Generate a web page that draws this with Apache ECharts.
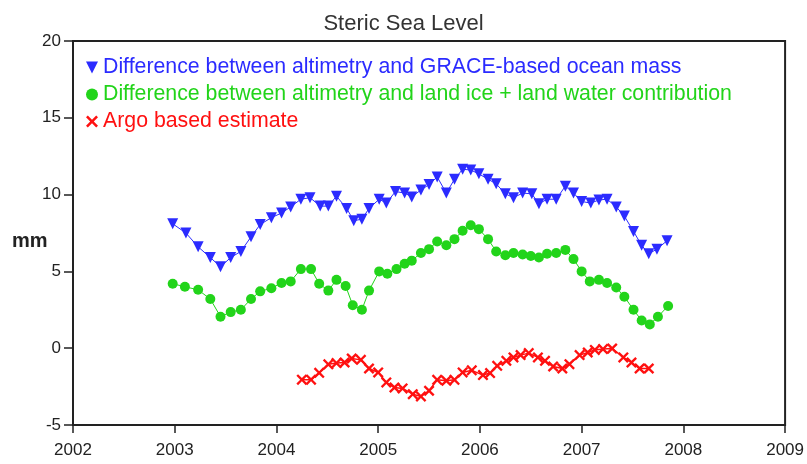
<!DOCTYPE html>
<html><head><meta charset="utf-8">
<script src="https://cdn.jsdelivr.net/npm/echarts@6/dist/echarts.min.js"></script>
<style>html,body{margin:0;padding:0;background:#fff}#c{width:807px;height:464px}</style>
</head><body><div id="c"></div>
<script>
const titleText = "Steric Sea Level";
const yAxisLabel = "mm";
const xTicks = [2002, 2003, 2004, 2005, 2006, 2007, 2008, 2009];
const yTicks = [-5, 0, 5, 10, 15, 20];
const seriesNames = [
  "Difference between altimetry and GRACE-based ocean mass",
  "Difference between altimetry and land ice + land water contribution",
  "Argo based estimate"
];
const graceYears = [2002.98,2003.11,2003.23,2003.35,2003.45,2003.55,2003.65,2003.75,2003.84,2003.95,2004.05,2004.14,2004.24,2004.33,2004.43,2004.51,2004.59,2004.69,2004.76,2004.84,2004.91,2005.01,2005.08,2005.17,2005.26,2005.33,2005.42,2005.50,2005.58,2005.67,2005.75,2005.83,2005.91,2005.99,2006.08,2006.16,2006.25,2006.33,2006.42,2006.51,2006.58,2006.66,2006.75,2006.84,2006.92,2007.00,2007.09,2007.17,2007.25,2007.34,2007.42,2007.51,2007.59,2007.66,2007.74,2007.84];
const graceValues = [8.1,7.5,6.6,5.9,5.3,5.9,6.3,7.25,8.05,8.5,8.8,9.2,9.7,9.8,9.25,9.25,9.9,9.1,8.3,8.4,9.1,9.7,9.45,10.2,10.1,9.85,10.3,10.65,11.15,10.1,11.0,11.65,11.6,11.35,11.0,10.7,10.05,9.8,10.1,10.05,9.4,9.7,9.7,10.55,10.1,9.55,9.45,9.65,9.7,9.2,8.6,7.6,6.7,6.15,6.45,7.0];
const iceYears = [2002.98,2003.10,2003.23,2003.35,2003.45,2003.55,2003.65,2003.75,2003.84,2003.95,2004.05,2004.14,2004.24,2004.34,2004.42,2004.51,2004.59,2004.68,2004.75,2004.84,2004.91,2005.01,2005.09,2005.18,2005.26,2005.33,2005.42,2005.50,2005.58,2005.67,2005.75,2005.83,2005.91,2005.99,2006.08,2006.16,2006.25,2006.33,2006.42,2006.50,2006.58,2006.66,2006.75,2006.84,2006.92,2007.00,2007.08,2007.17,2007.25,2007.34,2007.42,2007.51,2007.59,2007.67,2007.75,2007.85];
const iceValues = [4.2,4.0,3.8,3.2,2.05,2.35,2.5,3.2,3.7,3.9,4.25,4.35,5.15,5.15,4.2,3.75,4.45,4.05,2.8,2.5,3.75,5.0,4.85,5.15,5.5,5.7,6.2,6.45,6.95,6.7,7.1,7.65,8.0,7.75,7.1,6.3,6.05,6.2,6.1,6.0,5.9,6.15,6.2,6.4,5.8,5.0,4.35,4.45,4.25,3.95,3.35,2.5,1.8,1.55,2.05,2.75];
const argoYears = [2004.25,2004.34,2004.42,2004.51,2004.59,2004.67,2004.74,2004.83,2004.91,2005.00,2005.08,2005.16,2005.24,2005.34,2005.42,2005.50,2005.58,2005.67,2005.75,2005.83,2005.92,2006.03,2006.10,2006.17,2006.26,2006.33,2006.40,2006.48,2006.57,2006.64,2006.72,2006.81,2006.88,2006.98,2007.06,2007.13,2007.21,2007.30,2007.41,2007.49,2007.57,2007.66];
const argoValues = [-2.05,-2.05,-1.6,-1.05,-0.97,-0.93,-0.67,-0.76,-1.32,-1.58,-2.23,-2.56,-2.62,-2.99,-3.14,-2.77,-2.06,-2.12,-2.06,-1.58,-1.44,-1.75,-1.62,-1.15,-0.82,-0.6,-0.45,-0.32,-0.6,-0.82,-1.19,-1.32,-1.04,-0.45,-0.28,-0.11,-0.06,-0.02,-0.6,-0.93,-1.32,-1.32];

const BLUE = '#2b2bff', GREEN = '#22d41a', RED = '#ff1010';
const TRI = 'path://M0,0 L10,0 L5,10 Z';
const XS = 'path://M1.5,0 L5,3.5 L8.5,0 L10,1.5 L6.5,5 L10,8.5 L8.5,10 L5,6.5 L1.5,10 L0,8.5 L3.5,5 L0,1.5 Z';
const pair = (xs, ys) => xs.map((x, i) => [x, ys[i]]);

const chart = echarts.init(document.getElementById('c'), null, {renderer: 'canvas'});
chart.setOption({
  animation: false,
  backgroundColor: '#fff',
  title: {text: titleText, left: 'center', top: 8,
    textStyle: {fontFamily: 'Liberation Sans', fontSize: 22, fontWeight: 'normal', color: '#333'}},
  grid: {left: 73, right: 21, top: 41, bottom: 39, show: true, borderColor: '#222', borderWidth: 2},
  legend: {
    orient: 'vertical', left: 81, top: 52, itemGap: 6, itemWidth: 12, itemHeight: 12,
    textStyle: {fontFamily: 'Liberation Sans', fontSize: 21.3},
    data: [
      {name: seriesNames[0], icon: TRI, textStyle: {color: BLUE}, itemStyle: {color: BLUE}},
      {name: seriesNames[1], icon: 'circle', textStyle: {color: GREEN}, itemStyle: {color: GREEN}},
      {name: seriesNames[2], icon: XS, textStyle: {color: RED}, itemStyle: {color: RED}}
    ]
  },
  graphic: [{type: 'text', left: 12, top: 231,
    style: {text: yAxisLabel, font: 'bold 20px "Liberation Sans"', fill: '#222'}}],
  xAxis: {
    type: 'value', min: xTicks[0], max: xTicks[xTicks.length - 1], interval: 1,
    axisLine: {onZero: false, lineStyle: {color: '#222', width: 2}},
    axisTick: {show: true, length: 8, lineStyle: {color: '#222', width: 1.5}},
    axisLabel: {margin: 17, fontFamily: 'Liberation Sans', fontSize: 17, color: '#222',
      formatter: v => String(v)},
    splitLine: {show: false}
  },
  yAxis: {
    type: 'value', min: yTicks[0], max: yTicks[yTicks.length - 1], interval: 5,
    axisLine: {show: true, onZero: false, lineStyle: {color: '#222', width: 2}},
    axisTick: {show: true, length: 9, lineStyle: {color: '#222', width: 1.5}},
    axisLabel: {margin: 12, fontFamily: 'Liberation Sans', fontSize: 17, color: '#222'},
    splitLine: {show: false}
  },
  series: [
    {name: seriesNames[0], type: 'line', data: pair(graceYears, graceValues),
     symbol: TRI, symbolSize: 11, color: BLUE, itemStyle: {color: BLUE},
     lineStyle: {color: BLUE, width: 1}},
    {name: seriesNames[1], type: 'line', data: pair(iceYears, iceValues),
     symbol: 'circle', symbolSize: 10, color: GREEN, itemStyle: {color: GREEN},
     lineStyle: {color: GREEN, width: 1}},
    {name: seriesNames[2], type: 'line', data: pair(argoYears, argoValues),
     symbol: XS, symbolSize: 11, color: RED, itemStyle: {color: RED},
     lineStyle: {color: RED, width: 1.5}}
  ]
});
</script></body></html>
